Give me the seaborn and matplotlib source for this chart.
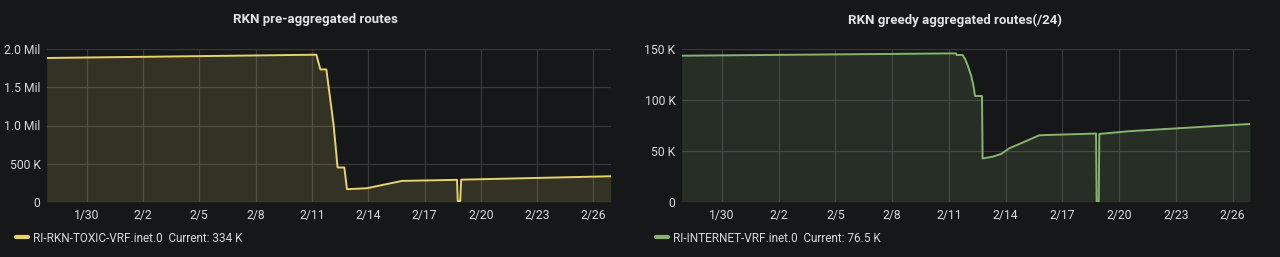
import matplotlib
matplotlib.use("Agg")
import matplotlib.pyplot as plt
import seaborn as sns
import pandas as pd
from matplotlib.ticker import FixedLocator, FixedFormatter

# ---------------- data ----------------
pre_times = [
    "2019-01-27 21:00", "2019-02-11 05:45", "2019-02-11 10:50", "2019-02-11 18:30",
    "2019-02-12 03:50", "2019-02-12 08:50", "2019-02-12 17:30", "2019-02-12 20:50",
    "2019-02-13 22:30", "2019-02-15 19:10", "2019-02-18 17:30", "2019-02-18 18:30",
    "2019-02-18 21:36", "2019-02-18 22:50", "2019-02-26 22:00",
]
pre_values = [
    1886000, 1929000, 1736000, 1736000,
    1000000, 449000, 449000, 164000,
    177000, 273000, 287000, 8000,
    8000, 289000, 334000,
]

greedy_times = [
    "2019-01-27 21:00", "2019-02-11 09:00", "2019-02-11 09:40", "2019-02-11 17:15",
    "2019-02-11 20:30", "2019-02-11 23:45", "2019-02-12 04:05", "2019-02-12 07:00",
    "2019-02-12 09:10", "2019-02-12 18:00", "2019-02-12 18:45", "2019-02-13 07:25",
    "2019-02-13 18:15", "2019-02-14 04:35", "2019-02-15 18:45", "2019-02-18 18:40",
    "2019-02-18 19:25", "2019-02-18 22:05", "2019-02-18 22:50", "2019-02-20 13:00",
    "2019-02-26 22:00",
]
greedy_values = [
    143700, 146000, 144400, 144400,
    140500, 134400, 124500, 114600,
    104000, 104000, 42600, 44300,
    47000, 52500, 65400, 67100,
    0, 0, 66700, 69400,
    76500,
]

x_range = ["2019-01-27 21:00", "2019-02-26 22:00"]
x_tick_dates = ["2019-01-30", "2019-02-02", "2019-02-05", "2019-02-08", "2019-02-11",
                "2019-02-14", "2019-02-17", "2019-02-20", "2019-02-23", "2019-02-26"]
x_tick_labels = ["1/30", "2/2", "2/5", "2/8", "2/11", "2/14", "2/17", "2/20", "2/23", "2/26"]

pre_y_ticks = [0, 500000, 1000000, 1500000, 2000000]
pre_y_labels = ["0", "500 K", "1.0 Mil", "1.5 Mil", "2.0 Mil"]
greedy_y_ticks = [0, 50000, 100000, 150000]
greedy_y_labels = ["0", "50 K", "100 K", "150 K"]

titles = ["RKN pre-aggregated routes", "RKN greedy aggregated routes(/24)"]
legend_labels = ["RI-RKN-TOXIC-VRF.inet.0  Current: 334 K",
                 "RI-INTERNET-VRF.inet.0  Current: 76.5 K"]

# ---------------- style ----------------
BG = "#161719"
GRID = "#37393d"
TXT = "#d8d9da"
TITLE = "#e2e3e4"
YELLOW = "#e6d36a"
GREEN = "#86b46f"

sns.set_theme(style="dark")
plt.rcParams["font.family"] = ["Roboto", "DejaVu Sans"]
plt.rcParams["axes.facecolor"] = BG
plt.rcParams["figure.facecolor"] = BG

W, H = 1280, 257
fig = plt.figure(figsize=(12.8, 2.57), dpi=100, facecolor=BG)

top_px, bot_px = 49.3, 201.7
panels = [
    dict(x0=46.7, x1=610.7, times=pre_times, vals=pre_values, color=YELLOW,
         yt=pre_y_ticks, yl=pre_y_labels, ymax=2000000, title=titles[0],
         leg=legend_labels[0], tx=315, lx=16),
    dict(x0=681.7, x1=1250, times=greedy_times, vals=greedy_values, color=GREEN,
         yt=greedy_y_ticks, yl=greedy_y_labels, ymax=150000, title=titles[1],
         leg=legend_labels[1], tx=955, lx=656),
]

for p in panels:
    ax = fig.add_axes([p["x0"] / W, 1 - bot_px / H, (p["x1"] - p["x0"]) / W, (bot_px - top_px) / H])
    ax.set_facecolor(BG)
    df = pd.DataFrame({"time": pd.to_datetime(p["times"]), "value": p["vals"]})
    ax.fill_between(df["time"], df["value"], 0, color=p["color"], alpha=0.15, lw=0, zorder=1)
    sns.lineplot(data=df, x="time", y="value", ax=ax, color=p["color"], lw=1.4,
                 label=p["leg"], zorder=3)
    ax.set_xlim(pd.to_datetime(x_range[0]), pd.to_datetime(x_range[1]))
    ax.set_ylim(0, p["ymax"])
    ax.xaxis.set_major_locator(FixedLocator(matplotlib.dates.date2num(pd.to_datetime(x_tick_dates))))
    ax.xaxis.set_major_formatter(FixedFormatter(x_tick_labels))
    ax.yaxis.set_major_locator(FixedLocator(p["yt"]))
    ax.yaxis.set_major_formatter(FixedFormatter(p["yl"]))
    ax.set_xlabel("")
    ax.set_ylabel("")
    ax.grid(True, color=GRID, lw=0.9)
    ax.set_axisbelow(True)
    for s in ax.spines.values():
        s.set_visible(False)
    ax.tick_params(axis="both", length=0, colors=TXT, labelsize=8.7)
    ax.tick_params(axis="y", pad=4.5)
    ax.tick_params(axis="x", pad=5)
    leg = ax.legend(loc="center left", bbox_to_anchor=(p["lx"] / W, 1 - 238 / H),
                    bbox_transform=fig.transFigure, frameon=False, handlelength=1.0,
                    handletextpad=0.45, borderpad=0, borderaxespad=0, fontsize=8.5,
                    labelcolor=TXT)
    for ln in leg.get_lines():
        ln.set_linewidth(3)
    fig.text(p["tx"] / W, 1 - 20 / H, p["title"], ha="center", va="center",
             fontsize=9.5, fontweight="bold", color=TITLE)

fig.savefig("out.png", dpi=100, facecolor=BG)
